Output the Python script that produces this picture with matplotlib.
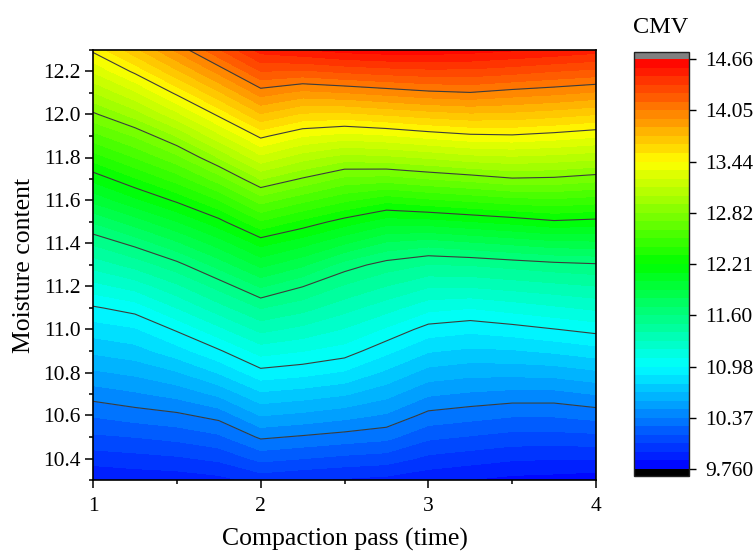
import matplotlib
matplotlib.use("Agg")
import matplotlib.pyplot as plt
import numpy as np
from matplotlib.colors import LinearSegmentedColormap
from matplotlib.ticker import MultipleLocator, AutoMinorLocator, FormatStrFormatter

plt.rcParams["font.family"] = ["Liberation Serif", "DejaVu Serif"]

# Grid of compaction passes (x) and moisture content (y)
passes = [1.0, 1.25, 1.5, 1.75, 2.0, 2.25, 2.5, 2.75, 3.0, 3.25, 3.5, 3.75, 4.0]
moisture = [10.3, 10.4, 10.5, 10.6, 10.7, 10.8, 10.9, 11.0, 11.1, 11.2, 11.3,
            11.4, 11.5, 11.6, 11.7, 11.8, 11.9, 12.0, 12.1, 12.2, 12.3]

# CMV readings, one list per pass value (bottom to top in moisture)
cmv_columns = [
    [9.87, 10.01, 10.15, 10.28, 10.42, 10.56, 10.70, 10.83, 10.97, 11.15, 11.33,
     11.51, 11.71, 11.93, 12.14, 12.36, 12.58, 12.80, 13.02, 13.24, 13.46],
    [9.89, 10.03, 10.17, 10.32, 10.46, 10.60, 10.74, 10.87, 11.03, 11.23, 11.43,
     11.63, 11.85, 12.08, 12.30, 12.52, 12.73, 12.97, 13.21, 13.46, 13.71],
    [9.90, 10.05, 10.20, 10.35, 10.51, 10.67, 10.84, 11.00, 11.19, 11.37, 11.56,
     11.78, 12.00, 12.23, 12.46, 12.69, 12.93, 13.20, 13.46, 13.72, 13.97],
    [9.93, 10.09, 10.25, 10.41, 10.60, 10.79, 10.97, 11.16, 11.35, 11.53, 11.74,
     11.95, 12.17, 12.41, 12.67, 12.93, 13.20, 13.46, 13.72, 13.98, 14.24],
    [10.00, 10.20, 10.39, 10.58, 10.76, 10.95, 11.13, 11.32, 11.50, 11.71, 11.93,
     12.14, 12.40, 12.66, 12.93, 13.20, 13.46, 13.73, 13.99, 14.25, 14.50],
    [9.97, 10.17, 10.36, 10.55, 10.73, 10.92, 11.09, 11.26, 11.43, 11.60, 11.82,
     12.04, 12.28, 12.54, 12.81, 13.07, 13.34, 13.62, 13.91, 14.23, 14.55],
    [9.95, 10.14, 10.33, 10.51, 10.69, 10.87, 11.04, 11.18, 11.33, 11.48, 11.65,
     11.91, 12.16, 12.43, 12.69, 12.98, 13.29, 13.61, 13.94, 14.27, 14.60],
    [9.93, 10.12, 10.30, 10.46, 10.61, 10.76, 10.91, 11.07, 11.23, 11.39, 11.55,
     11.78, 12.05, 12.34, 12.67, 13.00, 13.32, 13.65, 13.98, 14.30, 14.62],
    [9.89, 10.04, 10.19, 10.34, 10.49, 10.64, 10.79, 10.94, 11.12, 11.30, 11.49,
     11.74, 12.06, 12.39, 12.72, 13.04, 13.37, 13.69, 14.02, 14.32, 14.62],
    [9.86, 10.01, 10.16, 10.31, 10.46, 10.61, 10.76, 10.91, 11.09, 11.30, 11.50,
     11.78, 12.10, 12.43, 12.76, 13.09, 13.41, 13.72, 14.04, 14.32, 14.60],
    [9.83, 9.98, 10.13, 10.28, 10.44, 10.61, 10.77, 10.94, 11.13, 11.33, 11.53,
     11.82, 12.14, 12.47, 12.81, 13.11, 13.42, 13.71, 14.00, 14.29, 14.57],
    [9.82, 9.97, 10.13, 10.28, 10.44, 10.62, 10.80, 10.98, 11.17, 11.36, 11.56,
     11.86, 12.19, 12.49, 12.80, 13.09, 13.39, 13.68, 13.97, 14.25, 14.54],
    [9.80, 9.97, 10.14, 10.31, 10.48, 10.66, 10.84, 11.02, 11.21, 11.39, 11.58,
     11.87, 12.17, 12.46, 12.76, 13.06, 13.35, 13.64, 13.93, 14.22, 14.50],
]

cmv_min, cmv_max = 9.76, 14.66
n_bands = 48
cbar_labels = ["9.760", "10.37", "10.98", "11.60", "12.21",
               "12.82", "13.44", "14.05", "14.66"]

X, Y = np.meshgrid(passes, moisture)
Z = np.array(cmv_columns).T

levels = np.linspace(cmv_min, cmv_max, n_bands + 1)
major_levels = levels[::6]

cmap = LinearSegmentedColormap.from_list(
    "rainbow5", ["#0000ff", "#00ffff", "#00ff00", "#ffff00", "#ff0000"])
cmap.set_over("#808080")
cmap.set_under("#000000")

fig = plt.figure(figsize=(7.56, 5.57), dpi=100)
ax = fig.add_axes([93 / 756, 1 - 480 / 557, 503 / 756, 430 / 557])

cs = ax.contourf(X, Y, Z, levels=levels, cmap=cmap, extend="both",
                 antialiased=False)
ax.contour(X, Y, Z, levels=major_levels[1:-1], colors="#3c3c3c",
           linewidths=0.8)

ax.set_xlim(1, 4)
ax.set_ylim(10.3, 12.3)
ax.xaxis.set_major_locator(MultipleLocator(1))
ax.xaxis.set_minor_locator(AutoMinorLocator(2))
ax.yaxis.set_major_locator(MultipleLocator(0.2))
ax.yaxis.set_minor_locator(AutoMinorLocator(2))
ax.xaxis.set_major_formatter(FormatStrFormatter("%d"))
ax.yaxis.set_major_formatter(FormatStrFormatter("%.1f"))

for sp in ax.spines.values():
    sp.set_linewidth(1.2)
    sp.set_zorder(5)

ax.tick_params(which="both", direction="out", width=1.1, top=False, right=False)
ax.tick_params(which="major", length=5.5, labelsize=15.5)
ax.tick_params(which="minor", length=3)
ax.tick_params(axis="x", which="major", pad=7)
ax.tick_params(axis="y", which="major", pad=3.6)

ax.set_xlabel("Compaction pass (time)", fontsize=18.5, va="top")
ax.xaxis.set_label_coords(0.5, -48 / 430)
ax.set_ylabel("Moisture content", fontsize=18.5)
ax.yaxis.set_label_coords(-58 / 503, 0.5)

cax = fig.add_axes([634 / 756, 1 - 476 / 557, 55 / 756, 424 / 557])
cb = fig.colorbar(cs, cax=cax, extendrect=True, extendfrac=7 / 410)
cb.set_ticks(major_levels)
cb.set_ticklabels(cbar_labels)
cb.ax.minorticks_off()
cb.outline.set_linewidth(1.0)
cb.outline.set_edgecolor("#222222")
cb.ax.tick_params(direction="out", length=5, width=1, labelsize=15.5, pad=6.5)

fig.text(661 / 756, 1 - 33 / 557, "CMV", ha="center", va="baseline",
         fontsize=17.5)

fig.savefig("out.png", dpi=100)
